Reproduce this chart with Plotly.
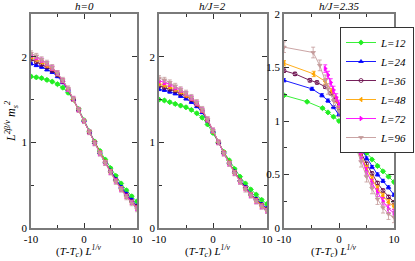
import plotly.graph_objects as go

# ---------------- data ----------------
L_LABELS = ["L=12", "L=24", "L=36", "L=48", "L=72", "L=96"]
COLORS = ["#22ee22", "#0000ff", "#670748", "#ffa500", "#ff00ff", "#c49a9a"]
SYMBOLS = ["diamond", "triangle-up", "circle-open", "triangle-left", "triangle-right", "triangle-down"]
PANEL_TITLES = ["h=0", "h/J=2", "h/J=2.35"]

# panel 1 (h=0), common x grid
P1_X = [-10, -9, -8, -7, -6, -5, -4, -3, -2, -1, 0, 1, 2, 3, 4, 5, 6, 7, 8, 9, 10]
P1_L12 = [1.77, 1.76, 1.75, 1.73, 1.71, 1.68, 1.64, 1.58, 1.50, 1.39, 1.26, 1.13, 1.01, 0.90, 0.80, 0.70, 0.61, 0.52, 0.44, 0.37, 0.31]
P1_L24 = [1.92, 1.90, 1.88, 1.85, 1.82, 1.77, 1.70, 1.61, 1.50, 1.38, 1.25, 1.12, 1.00, 0.88, 0.77, 0.67, 0.57, 0.48, 0.40, 0.33, 0.26]
P1_L36 = [1.97, 1.94, 1.91, 1.88, 1.84, 1.79, 1.71, 1.62, 1.50, 1.38, 1.25, 1.12, 1.00, 0.88, 0.77, 0.66, 0.56, 0.46, 0.38, 0.31, 0.25]
P1_L48 = [2.00, 1.97, 1.94, 1.90, 1.86, 1.80, 1.72, 1.62, 1.50, 1.38, 1.25, 1.12, 1.00, 0.88, 0.77, 0.66, 0.55, 0.46, 0.37, 0.30, 0.24]
P1_L72 = [2.02, 1.99, 1.96, 1.92, 1.87, 1.81, 1.72, 1.62, 1.51, 1.38, 1.25, 1.12, 0.99, 0.87, 0.76, 0.65, 0.55, 0.45, 0.37, 0.30, 0.23]
P1_L96 = [2.04, 2.01, 1.97, 1.93, 1.88, 1.81, 1.73, 1.63, 1.51, 1.38, 1.25, 1.12, 0.99, 0.87, 0.76, 0.65, 0.54, 0.45, 0.36, 0.29, 0.22]

# panel 2 (h/J=2), common x grid
P2_X = [-10, -9, -8, -7, -6, -5, -4, -3, -2, -1, 0, 1, 2, 3, 4, 5, 6, 7, 8, 9, 10]
P2_L12 = [1.50, 1.49, 1.47, 1.45, 1.43, 1.41, 1.38, 1.34, 1.29, 1.21, 1.11, 1.00, 0.89, 0.79, 0.69, 0.60, 0.52, 0.45, 0.39, 0.33, 0.28]
P2_L24 = [1.62, 1.61, 1.59, 1.57, 1.54, 1.51, 1.47, 1.42, 1.35, 1.25, 1.13, 1.00, 0.88, 0.76, 0.66, 0.56, 0.48, 0.40, 0.34, 0.28, 0.23]
P2_L36 = [1.66, 1.64, 1.62, 1.60, 1.57, 1.54, 1.50, 1.44, 1.37, 1.26, 1.13, 1.00, 0.88, 0.76, 0.65, 0.55, 0.47, 0.39, 0.33, 0.27, 0.22]
P2_L48 = [1.69, 1.67, 1.65, 1.62, 1.59, 1.55, 1.51, 1.45, 1.37, 1.26, 1.13, 1.00, 0.88, 0.76, 0.65, 0.55, 0.46, 0.39, 0.32, 0.26, 0.21]
P2_L72 = [1.72, 1.70, 1.68, 1.64, 1.61, 1.57, 1.52, 1.46, 1.38, 1.27, 1.14, 1.00, 0.87, 0.75, 0.64, 0.54, 0.46, 0.38, 0.31, 0.25, 0.20]
P2_L96 = [1.75, 1.73, 1.70, 1.66, 1.62, 1.58, 1.53, 1.47, 1.39, 1.27, 1.14, 1.00, 0.87, 0.75, 0.64, 0.54, 0.45, 0.38, 0.31, 0.25, 0.20]

# panel 3 (h/J=2.35), per-series x
P3_L12_X = [-10, -5.8, -3, -2, -1, 0, 1, 2, 3, 4, 5, 6, 7, 8, 9, 10]
P3_L12_Y = [1.24, 1.18, 1.12, 1.08, 1.04, 1.00, 0.94, 0.88, 0.82, 0.76, 0.70, 0.64, 0.58, 0.53, 0.48, 0.43]
P3_L24_X = [-10, -4.9, -3.1, -2, -1, 0, 1, 2, 3, 4, 5, 6, 7, 8, 9, 10]
P3_L24_Y = [1.38, 1.30, 1.24, 1.19, 1.13, 1.06, 0.98, 0.90, 0.82, 0.73, 0.65, 0.57, 0.50, 0.44, 0.38, 0.31]
P3_L36_X = [-10, -8, -5.3, -4, -2.5, -1.5, -0.7, 0, 1, 2, 3, 4, 5, 6, 7, 8, 9, 10]
P3_L36_Y = [1.47, 1.44, 1.38, 1.36, 1.32, 1.26, 1.20, 1.12, 1.02, 0.92, 0.81, 0.70, 0.60, 0.51, 0.42, 0.35, 0.29, 0.24]
P3_L48_X = [-10, -4.6, -2.5, -1.3, -0.5, 0, 1, 2, 3, 4, 5, 6, 7, 8, 9, 10]
P3_L48_Y = [1.54, 1.44, 1.37, 1.28, 1.20, 1.14, 1.03, 0.92, 0.80, 0.68, 0.56, 0.46, 0.37, 0.30, 0.24, 0.20]
P3_L72_X = [-2.5, -2, -1.5, -1, -0.5, 0, 0.5, 1, 2, 3, 4, 5, 6, 7, 8, 9, 10]
P3_L72_Y = [1.49, 1.43, 1.36, 1.29, 1.22, 1.16, 1.10, 1.04, 0.92, 0.79, 0.66, 0.53, 0.42, 0.33, 0.25, 0.18, 0.14]
P3_L96_X = [-10, -4.7, -3.5, -2.5, -2, -1, 0, 1, 2, 3, 4, 5, 6, 7, 8, 9, 10]
P3_L96_Y = [1.69, 1.64, 1.52, 1.38, 1.30, 1.19, 1.09, 0.99, 0.88, 0.76, 0.62, 0.48, 0.37, 0.27, 0.19, 0.13, 0.10]

ERR_P12 = [0.015, 0.015, 0.015, 0.02, 0.025, 0.03]
ERR_P3 = [0.01, 0.015, 0.015, 0.025, 0.035, 0.05]

X_TICKS = [-10, 0, 10]
Y_TICKS_12 = [0, 1, 2]
Y_TICKS_3 = [0, 0.5, 1, 1.5, 2]

# ---------------- figure ----------------
W, H = 415, 261
FONT = "Liberation Serif"
AX_COL = "#7a7a7a"

def fx(p):
    return p / W

def fy(p):
    return 1 - p / H

XDOM = [(31, 137), (159, 267), (284, 394)]
YDOM = [fy(228), fy(14)]

fig = go.Figure()

panels = [
    [(P1_X, P1_L12), (P1_X, P1_L24), (P1_X, P1_L36), (P1_X, P1_L48), (P1_X, P1_L72), (P1_X, P1_L96)],
    [(P2_X, P2_L12), (P2_X, P2_L24), (P2_X, P2_L36), (P2_X, P2_L48), (P2_X, P2_L72), (P2_X, P2_L96)],
    [(P3_L12_X, P3_L12_Y), (P3_L24_X, P3_L24_Y), (P3_L36_X, P3_L36_Y),
     (P3_L48_X, P3_L48_Y), (P3_L72_X, P3_L72_Y), (P3_L96_X, P3_L96_Y)],
]

for pi, series in enumerate(panels):
    xa = "x" if pi == 0 else f"x{pi+1}"
    ya = "y" if pi == 0 else f"y{pi+1}"
    errs = ERR_P3 if pi == 2 else ERR_P12
    for si, (xs, ys) in enumerate(series):
        fig.add_trace(go.Scatter(
            x=xs, y=ys, xaxis=xa, yaxis=ya,
            mode="lines+markers",
            name="<i>" + L_LABELS[si] + "</i>",
            legendgroup=L_LABELS[si],
            showlegend=(pi == 2),
            line=dict(color=COLORS[si], width=0.9),
            marker=dict(symbol=SYMBOLS[si], size=4, color=COLORS[si],
                        line=dict(color=COLORS[si], width=0.8)),
            error_y=dict(type="constant", value=errs[si], color=COLORS[si],
                         thickness=0.8, width=2),
            cliponaxis=True,
        ))

axis_common = dict(
    ticks="inside", ticklen=5, tickcolor="#333", tickwidth=1,
    showline=True, linecolor=AX_COL, linewidth=1.5, mirror="allticks",
    showgrid=False, zeroline=False, automargin=False,
    tickfont=dict(family=FONT, size=11, color="black"),
)

layout = dict(
    width=W, height=H,
    margin=dict(l=0, r=0, t=0, b=0, autoexpand=False),
    paper_bgcolor="white", plot_bgcolor="white",
    font=dict(family=FONT, size=11, color="black"),
    showlegend=True,
    legend=dict(x=fx(414), y=fy(27), xanchor="right", yanchor="top",
                bgcolor="white", bordercolor="#333", borderwidth=1,
                font=dict(family=FONT, size=11, color="black"),
                itemwidth=30, tracegroupgap=0),
)

for pi in range(3):
    xk = "xaxis" if pi == 0 else f"xaxis{pi+1}"
    yk = "yaxis" if pi == 0 else f"yaxis{pi+1}"
    ya = "y" if pi == 0 else f"y{pi+1}"
    xa = "x" if pi == 0 else f"x{pi+1}"
    layout[xk] = dict(
        domain=[fx(XDOM[pi][0]), fx(XDOM[pi][1])], anchor=ya,
        range=[-10, 10], tickvals=X_TICKS, ticktext=[str(v) for v in X_TICKS],
        minor=dict(ticks="inside", ticklen=3, dtick=5, tickcolor="#333", showgrid=False),
        **axis_common,
    )
    if pi < 2:
        yt = Y_TICKS_12
        yr = [0, 2.5]
        ydt = 0.5
    else:
        yt = Y_TICKS_3
        yr = [0, 2]
        ydt = 0.25
    layout[yk] = dict(
        domain=YDOM, anchor=xa,
        range=yr, tickvals=yt, ticktext=[("%g" % v) for v in yt],
        minor=dict(ticks="inside", ticklen=3, dtick=ydt, tickcolor="#333", showgrid=False),
        **axis_common,
    )

fig.update_layout(**layout)

ann = []
for pi in range(3):
    cx = (XDOM[pi][0] + XDOM[pi][1]) / 2
    ann.append(dict(x=fx(cx), y=fy(6), xref="paper", yref="paper",
                    text="<i>" + PANEL_TITLES[pi] + "</i>", showarrow=False,
                    font=dict(family=FONT, size=11, color="black"),
                    xanchor="center", yanchor="middle"))
    ann.append(dict(x=fx(cx - 5), y=fy(251), xref="paper", yref="paper",
                    text="(<i>T</i>-<i>T</i><sub><i>c</i></sub>) <i>L</i><sup><i>1/ν</i></sup>",
                    showarrow=False, font=dict(family=FONT, size=11, color="black"),
                    xanchor="center", yanchor="middle"))
ann.append(dict(x=fx(12), y=fy(122), xref="paper", yref="paper",
                text="<i>L</i><sup><i>2β/ν</i></sup> <i>m</i><sub><i>s</i></sub><sup><i>2</i></sup>",
                textangle=-90, showarrow=False,
                font=dict(family=FONT, size=12, color="black"),
                xanchor="center", yanchor="middle"))
fig.update_layout(annotations=ann)

fig.write_html("out.html", config={"displayModeBar": False},
               post_script="document.body.style.margin='0';document.body.style.overflow='hidden';")
